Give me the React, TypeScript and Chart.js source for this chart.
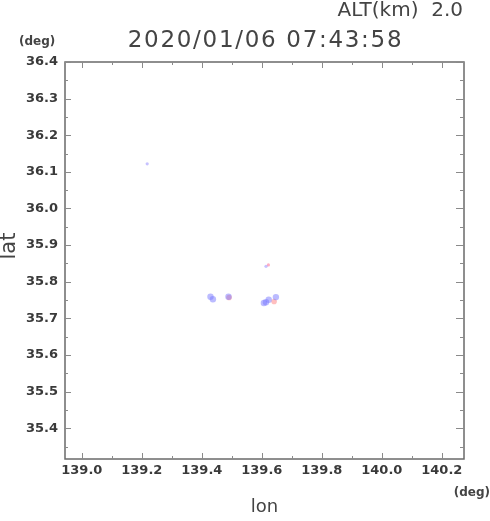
import React, { useEffect, useRef } from "react";
import { Chart, registerables } from "chart.js";
Chart.register(...registerables);

const titleText = "2020/01/06 07:43:58";
const altText = "ALT(km)  2.0";
const xAxisName = "lon";
const yAxisName = "lat";
const unitText = "(deg)";

const xMin = 138.944;
const xMax = 140.274;
const yMin = 35.316;
const yMax = 36.4;

const xMajorTicks = [139.0, 139.2, 139.4, 139.6, 139.8, 140.0, 140.2];
const xMinorTicks = [139.1, 139.3, 139.5, 139.7, 139.9, 140.1];
const yMajorTicks = [35.4, 35.5, 35.6, 35.7, 35.8, 35.9, 36.0, 36.1, 36.2, 36.3, 36.4];
const yMinorTicks = [35.35, 35.45, 35.55, 35.65, 35.75, 35.85, 35.95, 36.05, 36.15, 36.25, 36.35];

const blueLon = [139.429, 139.437, 139.489, 139.607, 139.614, 139.623, 139.647];
const blueLat = [35.759, 35.752, 35.759, 35.742, 35.744, 35.751, 35.758];
const blueSmallLon = [139.614, 139.218];
const blueSmallLat = [35.842, 36.122];
const pinkLon = [139.491, 139.641];
const pinkLat = [35.757, 35.746];
const pinkSmallLon = [139.622];
const pinkSmallLat = [35.846];

const toPts = (xs: number[], ys: number[]) => xs.map((x, i) => ({ x, y: ys[i] }));

const framePlugin = {
  id: "framePlugin",
  afterDraw(chart: any) {
    const ctx = chart.ctx;
    const { left, right, top, bottom } = chart.chartArea;
    const xs = chart.scales.x;
    const ys = chart.scales.y;
    ctx.save();
    ctx.strokeStyle = "#6a6a6a";
    ctx.lineWidth = 1.5;
    ctx.strokeRect(left, top, right - left, bottom - top);
    ctx.lineWidth = 1;
    ctx.strokeStyle = "#8a8a8a";
    ctx.beginPath();
    const tickX = (v: number, len: number) => {
      const px = Math.round(xs.getPixelForValue(v)) + 0.5;
      ctx.moveTo(px, bottom);
      ctx.lineTo(px, bottom - len);
      ctx.moveTo(px, top);
      ctx.lineTo(px, top + len);
    };
    const tickY = (v: number, lenL: number, lenR: number) => {
      const py = Math.round(ys.getPixelForValue(v)) + 0.5;
      ctx.moveTo(left, py);
      ctx.lineTo(left + lenL, py);
      ctx.moveTo(right, py);
      ctx.lineTo(right - lenR, py);
    };
    xMajorTicks.forEach((v) => tickX(v, 6));
    xMinorTicks.forEach((v) => tickX(v, 3));
    yMajorTicks.forEach((v) => tickY(v, 6, 8));
    yMinorTicks.forEach((v) => tickY(v, 3, 4));
    ctx.stroke();

    ctx.fillStyle = "#444";
    ctx.textBaseline = "alphabetic";
    ctx.font = "23px 'DejaVu Sans'";
    ctx.textAlign = "center";
    (ctx as any).letterSpacing = "1.7px";
    ctx.fillText(titleText, (left + right) / 2 + 1, 47);
    (ctx as any).letterSpacing = "0px";
    ctx.font = "20px 'DejaVu Sans'";
    ctx.textAlign = "right";
    ctx.fillText(altText, 463, 16);
    ctx.font = "bold 12px 'DejaVu Sans'";
    ctx.textAlign = "left";
    ctx.fillText(unitText, 19, 45);
    ctx.textAlign = "right";
    ctx.fillText(unitText, 490, 496);
    ctx.font = "18px 'DejaVu Sans'";
    ctx.textAlign = "center";
    ctx.fillText(xAxisName, (left + right) / 2, 512);
    ctx.font = "21px 'DejaVu Sans'";
    ctx.save();
    ctx.translate(15, 246);
    ctx.rotate(-Math.PI / 2);
    ctx.fillText(yAxisName, 0, 0);
    ctx.restore();
    ctx.restore();
  },
};

export default function App() {
  const ref = useRef<HTMLCanvasElement>(null);
  useEffect(() => {
    if (!ref.current) return;
    const tickFont = { family: "'DejaVu Sans'", size: 13, weight: "bold" as const };
    const chart = new Chart(ref.current, {
      type: "scatter",
      data: {
        datasets: [
          {
            data: toPts(blueLon, blueLat),
            pointRadius: 3.2,
            backgroundColor: "rgba(120,120,255,0.5)",
            borderWidth: 0,
          },
          {
            data: toPts(blueSmallLon, blueSmallLat),
            pointRadius: 1.6,
            backgroundColor: "rgba(130,120,255,0.45)",
            borderWidth: 0,
          },
          {
            data: toPts(pinkLon, pinkLat),
            pointRadius: 2.8,
            backgroundColor: "rgba(255,170,170,0.75)",
            borderWidth: 0,
          },
          {
            data: toPts(pinkSmallLon, pinkSmallLat),
            pointRadius: 1.6,
            backgroundColor: "rgba(255,140,170,0.7)",
            borderWidth: 0,
          },
        ],
      },
      options: {
        responsive: false,
        animation: false,
        layout: { padding: { top: 62, right: 26, left: 0, bottom: 0 } },
        plugins: { legend: { display: false }, tooltip: { enabled: false } },
        scales: {
          x: {
            type: "linear",
            min: xMin,
            max: xMax,
            grid: { display: false, drawTicks: false },
            border: { display: false },
            afterBuildTicks: (s: any) => {
              s.ticks = xMajorTicks.map((v) => ({ value: v }));
            },
            afterFit: (s: any) => {
              s.height = 62;
            },
            ticks: {
              font: tickFont,
              color: "#3a3a3a",
              padding: 4,
              maxRotation: 0,
              autoSkip: false,
              callback: (v: any) => Number(v).toFixed(1),
            },
          },
          y: {
            type: "linear",
            min: yMin,
            max: yMax,
            grid: { display: false, drawTicks: false },
            border: { display: false },
            afterBuildTicks: (s: any) => {
              s.ticks = yMajorTicks.map((v) => ({ value: v }));
            },
            afterFit: (s: any) => {
              s.width = 65;
            },
            ticks: {
              font: tickFont,
              color: "#3a3a3a",
              padding: 7,
              autoSkip: false,
              callback: (v: any) => Number(v).toFixed(1),
            },
          },
        },
      },
      plugins: [framePlugin],
    } as any);
    return () => chart.destroy();
  }, []);
  return (
    <div style={{ position: "absolute", left: 0, top: 0, width: 490, height: 521, background: "#fff" }}>
      <canvas ref={ref} width={490} height={521} />
    </div>
  );
}
